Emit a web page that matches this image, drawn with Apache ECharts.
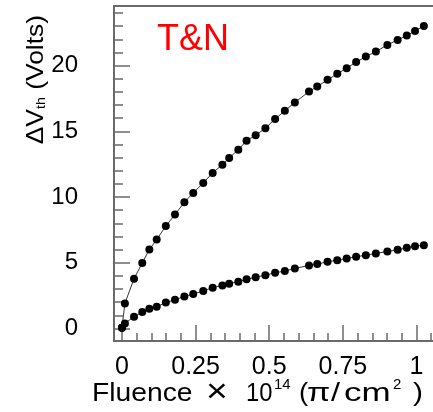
<!DOCTYPE html>
<html>
<head>
<meta charset="utf-8">
<script src="https://cdn.jsdelivr.net/npm/echarts@6/dist/echarts.min.js"></script>
<style>
  html, body { margin: 0; padding: 0; background: #fff; }
  #chart { width: 433px; height: 412px; }
</style>
</head>
<body>
<div id="chart"></div>
<script>
// Fluence in units of 10^14 pi/cm^2
const fluence = [0, 0.010, 0.041, 0.069, 0.093, 0.118, 0.149, 0.180, 0.212, 0.242,
  0.276, 0.308, 0.341, 0.364, 0.395, 0.423, 0.454, 0.487, 0.520, 0.553,
  0.587, 0.635, 0.663, 0.698, 0.731, 0.763, 0.795, 0.828, 0.862, 0.901,
  0.936, 0.967, 0.995, 1.025];

// Threshold voltage shift (Volts), upper and lower curves
const shiftHigh = [0.05, 1.91, 3.79, 4.99, 6.01, 6.77, 7.80, 8.67, 9.61, 10.32,
  11.08, 11.84, 12.47, 12.98, 13.61, 14.29, 14.71, 15.24, 15.94, 16.57,
  17.20, 18.03, 18.41, 18.92, 19.38, 19.81, 20.27, 20.69, 21.07, 21.58,
  21.96, 22.29, 22.64, 23.02];
const shiftLow = [0.05, 0.39, 0.90, 1.25, 1.51, 1.66, 1.97, 2.19, 2.44, 2.62,
  2.86, 3.11, 3.28, 3.41, 3.56, 3.74, 3.91, 4.06, 4.24, 4.37,
  4.57, 4.80, 4.90, 5.08, 5.20, 5.33, 5.46, 5.58, 5.71, 5.86,
  5.99, 6.14, 6.26, 6.34];

// Tick positions
const xMajor = [0, 0.25, 0.5, 0.75, 1];
const xMinor = [0, 0.05, 0.1, 0.15, 0.2, 0.25, 0.3, 0.35, 0.4, 0.45, 0.5,
  0.55, 0.6, 0.65, 0.7, 0.75, 0.8, 0.85, 0.9, 0.95, 1, 1.05];
const yMajor = [0, 5, 10, 15, 20];
const yMinor = [0, 1, 2, 3, 4, 5, 6, 7, 8, 9, 10, 11, 12, 13, 14, 15, 16,
  17, 18, 19, 20, 21, 22, 23, 24];

const FONT = 'Liberation Sans';
const AXIS_COLOR = '#6a6a6a';
const X_MIN = -0.027, X_MAX = 1.056;
const Y_MIN = -0.95, Y_MAX = 24.54;

const pairs = ys => fluence.map((x, i) => [x, ys[i]]);

const chart = echarts.init(document.getElementById('chart'));

const baseX = { type: 'value', min: X_MIN, max: X_MAX, position: 'bottom', splitLine: { show: false } };
const baseY = { type: 'value', min: Y_MIN, max: Y_MAX, position: 'left', splitLine: { show: false } };

// Pieces of the horizontal axis title, laid out left to right
const titleParts = [
  { text: 'Fluence', x: 92, size: 25, sx: 1.13, dy: 0 },
  { text: '×', x: 206, size: 34, sx: 1.1, dy: -1 },
  { text: '10', x: 246, size: 25, sx: 0.95, dy: 0 },
  { text: '14', x: 274, size: 15, sx: 1.0, dy: -9 },
  { text: '(', x: 299, size: 25, sx: 1.1, dy: 0 },
  { text: 'π', x: 307, size: 25, sx: 1.35, dy: 0 },
  { text: '/', x: 331, size: 25, sx: 1.3, dy: 0 },
  { text: 'cm', x: 344, size: 25, sx: 1.4, dy: 0 },
  { text: '2', x: 393, size: 15, sx: 1.0, dy: -9 },
  { text: ')', x: 413, size: 25, sx: 1.2, dy: 0 }
];

chart.setOption({
  animation: false,
  grid: { left: 114, right: 0, top: 6, bottom: 71, show: false },
  xAxis: [
    Object.assign({}, baseX, {
      axisLine: { show: true, onZero: false, lineStyle: { color: AXIS_COLOR, width: 2 } },
      axisTick: { show: true, inside: true, length: 16, customValues: xMajor, lineStyle: { color: AXIS_COLOR, width: 1.5 } },
      axisLabel: { show: true, customValues: xMajor, margin: 14, fontFamily: FONT, fontSize: 25, color: '#000' } }),
    Object.assign({}, baseX, {
      axisLine: { show: false, onZero: false },
      axisTick: { show: true, inside: true, length: 8, customValues: xMinor, lineStyle: { color: AXIS_COLOR, width: 1.5 } },
      axisLabel: { show: false } }),
    Object.assign({}, baseX, { position: 'top',
      axisLine: { show: true, onZero: false, lineStyle: { color: AXIS_COLOR, width: 2 } },
      axisTick: { show: false }, axisLabel: { show: false } })
  ],
  yAxis: [
    Object.assign({}, baseY, {
      axisLine: { show: true, onZero: false, lineStyle: { color: AXIS_COLOR, width: 2 } },
      axisTick: { show: true, inside: true, length: 16, customValues: yMajor, lineStyle: { color: AXIS_COLOR, width: 1.5 } },
      axisLabel: { show: true, customValues: yMajor, margin: 36, fontFamily: FONT, fontSize: 24, color: '#000' } }),
    Object.assign({}, baseY, {
      axisLine: { show: false, onZero: false },
      axisTick: { show: true, inside: true, length: 9, customValues: yMinor, lineStyle: { color: AXIS_COLOR, width: 1.5 } },
      axisLabel: { show: false } })
  ],
  graphic: [
    { type: 'text', left: 157, top: 22, z: 10,
      style: { text: 'T&N', fill: '#ff0000', fontFamily: FONT, fontSize: 36 } },
    { type: 'text', x: 34, y: 15, rotation: Math.PI / 2, scaleX: 1.1, z: 10,
      style: { text: '{a|ΔV}{s|th}{a| (Volts)}', align: 'right', verticalAlign: 'middle',
        rich: {
          a: { fontFamily: FONT, fontSize: 24, fill: '#000', verticalAlign: 'bottom', lineHeight: 28 },
          s: { fontFamily: FONT, fontSize: 13, fill: '#000', verticalAlign: 'bottom', lineHeight: 24 }
        } } }
  ].concat(titleParts.map(p => ({
    type: 'text', x: p.x, y: 394 + p.dy, scaleX: p.sx, z: 10,
    style: { text: p.text, fill: '#000', fontFamily: FONT, fontSize: p.size, align: 'left', verticalAlign: 'middle' }
  }))),
  series: [
    { type: 'line', data: pairs(shiftHigh), xAxisIndex: 0, yAxisIndex: 0,
      symbol: 'circle', symbolSize: 8, itemStyle: { color: '#000' }, lineStyle: { color: '#333', width: 1 } },
    { type: 'line', data: pairs(shiftLow), xAxisIndex: 0, yAxisIndex: 0,
      symbol: 'circle', symbolSize: 8, itemStyle: { color: '#000' }, lineStyle: { color: '#333', width: 1 } }
  ]
});
</script>
</body>
</html>
